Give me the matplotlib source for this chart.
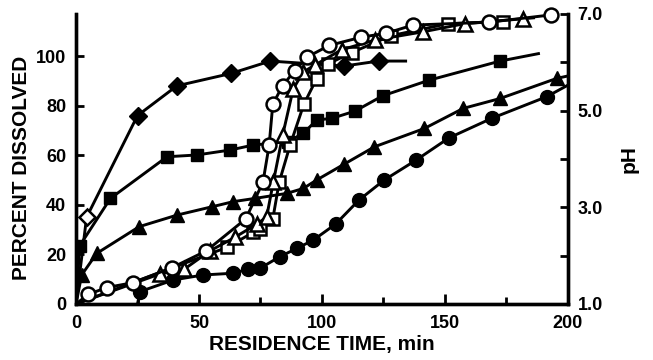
import matplotlib
matplotlib.use("Agg")
import matplotlib.pyplot as plt
from matplotlib.ticker import MultipleLocator, FixedLocator

plt.rcParams['font.family'] = ['Liberation Sans', 'DejaVu Sans']
plt.rcParams['font.weight'] = 'bold'

# ---------------- data ----------------
# Percent dissolved (left axis) - filled symbols; first/last entries are line ends only
diamond_x   = [0, 4.3, 25, 41, 63, 79, 109, 123, 134]
diamond_pct = [0, 35, 76, 88, 93, 98, 96, 98, 98]

fsquare_x   = [0, 1.5, 14, 37, 49, 62.6, 72, 86, 92.4, 97.8, 104, 113.4, 124.7, 143.6, 172.4, 188]
fsquare_pct = [0, 23.5, 42.6, 59.4, 60.1, 62.1, 64.1, 65.5, 68.8, 74.2, 74.9, 77.8, 84, 90.3, 98, 101]

ftri_x   = [0, 2.3, 8.4, 25.7, 41.2, 55.2, 64, 72.8, 85.6, 92.4, 97.8, 109, 121.3, 141.6, 157.4, 172.4, 195.4, 200]
ftri_pct = [0, 11.7, 20.4, 31.2, 35.9, 39.2, 41.3, 42.6, 44.6, 46.6, 50, 56.4, 63.4, 70.8, 78.9, 82.9, 91, 92]

fcirc_x   = [25, 26, 39.6, 51.7, 63.7, 70, 74.8, 82.9, 89.7, 96.5, 105.5, 115, 125.3, 138.2, 151.6, 169, 191.3, 200]
fcirc_pct = [0, 5, 9.7, 11.7, 12.4, 14, 14.4, 19.1, 22.4, 25.8, 32.2, 41.9, 50, 58, 67, 74.9, 83.6, 88.3]

# pH (right axis) - open symbols
ocirc_x  = [0, 5, 12.5, 23, 39, 53, 69, 76, 78.5, 80, 84, 89, 94, 103, 116, 126, 137, 168, 193]
ocirc_ph = [1.0, 1.20, 1.34, 1.44, 1.75, 2.10, 2.76, 3.52, 4.28, 5.13, 5.52, 5.83, 6.11, 6.35, 6.52, 6.60, 6.77, 6.83, 6.98]

otri_x  = [0, 34, 44, 54.5, 64.6, 73.4, 77.5, 80.2, 84, 88.3, 92.4, 97, 108, 121.5, 141, 158, 181.6, 186]
otri_ph = [1.0, 1.62, 1.72, 2.10, 2.38, 2.65, 2.80, 3.52, 4.49, 5.45, 5.80, 5.94, 6.26, 6.46, 6.63, 6.80, 6.90, 6.92]

osq_x  = [0, 61.3, 72, 74.8, 80, 82.6, 87, 92.6, 97.8, 102.6, 112, 128, 151.3, 173.7]
osq_ph = [1.0, 2.17, 2.48, 2.55, 2.76, 3.52, 4.28, 5.13, 5.66, 5.97, 6.20, 6.55, 6.80, 6.84]

x_ticks_major = [0, 50, 100, 150, 200]
pct_ticks = [0, 20, 40, 60, 80, 100]
ph_labels = [1.0, 3.0, 5.0, 7.0]
ph_minor = [2.0, 4.0, 6.0]

# ---------------- figure ----------------
fig = plt.figure(figsize=(6.53, 3.60), dpi=100)
ax = fig.add_axes([0.1164, 0.1556, 0.7534, 0.8056])
ax2 = ax.twinx()

lw = 2.1
ms = 9.5
mew = 1.8

# filled series
ax.plot(diamond_x, diamond_pct, color='black', lw=lw)
ax.plot(diamond_x[2:-1], diamond_pct[2:-1], ls='none', marker='D', ms=ms, color='black')
ax.plot(diamond_x[1:2], diamond_pct[1:2], ls='none', marker='D', ms=ms - 1,
        mfc='white', mec='black', mew=mew)

ax.plot(fsquare_x, fsquare_pct, color='black', lw=lw)
ax.plot(fsquare_x[1:-1], fsquare_pct[1:-1], ls='none', marker='s', ms=ms - 0.5, color='black')

ax.plot(ftri_x, ftri_pct, color='black', lw=lw)
ax.plot(ftri_x[1:-1], ftri_pct[1:-1], ls='none', marker='^', ms=ms + 0.5, color='black')

ax.plot(fcirc_x, fcirc_pct, color='black', lw=lw)
ax.plot(fcirc_x[1:-1], fcirc_pct[1:-1], ls='none', marker='o', ms=ms + 0.5, color='black')

# open series (pH)
ax2.plot(osq_x, osq_ph, color='black', lw=lw)
ax2.plot(osq_x[1:], osq_ph[1:], ls='none', marker='s', ms=ms - 0.5,
         mfc='white', mec='black', mew=mew, clip_on=False)
ax2.plot(otri_x, otri_ph, color='black', lw=lw)
ax2.plot(otri_x[1:-1], otri_ph[1:-1], ls='none', marker='^', ms=ms,
         mfc='white', mec='black', mew=mew, clip_on=False)
ax2.plot(ocirc_x, ocirc_ph, color='black', lw=lw)
ax2.plot(ocirc_x[1:], ocirc_ph[1:], ls='none', marker='o', ms=ms + 0.5,
         mfc='white', mec='black', mew=mew, clip_on=False)

# axes limits
ax.set_xlim(0, 200)
ax.set_ylim(0, 117)
ax2.set_ylim(1, 7)

for a in (ax, ax2):
    a.spines['top'].set_visible(False)
    for s in ('left', 'right', 'bottom'):
        a.spines[s].set_linewidth(2.4)
    a.patch.set_visible(False)

ax.xaxis.set_major_locator(FixedLocator(x_ticks_major))
ax.xaxis.set_minor_locator(MultipleLocator(25))
ax.yaxis.set_major_locator(FixedLocator(pct_ticks))
ax.yaxis.set_minor_locator(FixedLocator([]))
ax2.yaxis.set_major_locator(FixedLocator(ph_labels))
ax2.yaxis.set_minor_locator(FixedLocator(ph_minor))
ax2.set_yticklabels([f"{v:.1f}" for v in ph_labels])

tick_fs = 13
ax.tick_params(axis='y', which='major', direction='in', length=6, width=2,
               labelsize=tick_fs, pad=7)
ax.tick_params(axis='x', which='major', direction='in', length=7, width=2,
               labelsize=tick_fs, pad=8)
ax.tick_params(axis='x', which='minor', direction='in', length=5, width=2)
ax2.tick_params(axis='y', which='major', direction='in', length=6, width=2,
                labelsize=tick_fs, pad=7)
ax2.tick_params(axis='y', which='minor', direction='in', length=6, width=2)

for lab in ax.get_xticklabels() + ax.get_yticklabels() + ax2.get_yticklabels():
    lab.set_fontweight('bold')

ax.set_xlabel('RESIDENCE TIME, min', fontsize=15, fontweight='bold', labelpad=2)
ax.set_ylabel('PERCENT DISSOLVED', fontsize=15, fontweight='bold')
ax.yaxis.set_label_coords(-0.092, 0.47)
ax2.set_ylabel('pH', fontsize=15, fontweight='bold', rotation=90)
ax2.yaxis.set_label_coords(1.105, 0.5)

fig.savefig('out.png', dpi=100)
